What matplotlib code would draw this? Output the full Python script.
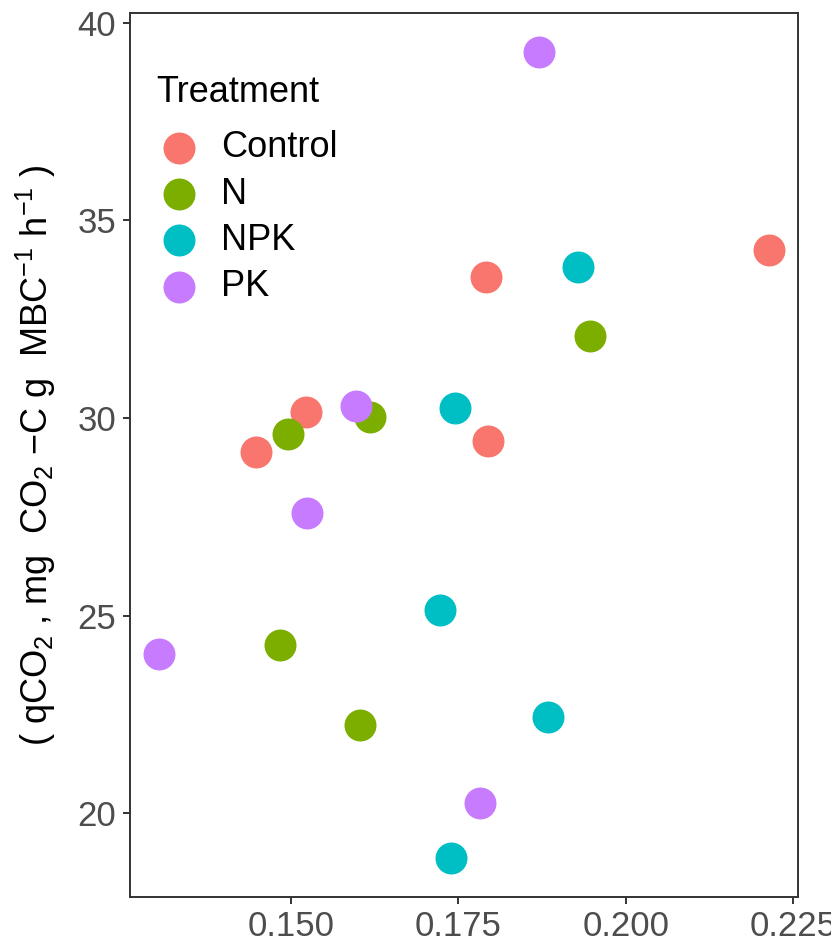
import numpy as np
import matplotlib
matplotlib.use("Agg")
import matplotlib.pyplot as plt

plt.rcParams['font.family'] = ['Liberation Sans', 'DejaVu Sans']
plt.rcParams['mathtext.fontset'] = 'custom'
plt.rcParams['mathtext.rm'] = 'Liberation Sans'
plt.rcParams['mathtext.it'] = 'Liberation Sans'
plt.rcParams['mathtext.bf'] = 'Liberation Sans:bold'

# data
treatments = ["Control", "N", "NPK", "PK"]
colors = ["#F8766D", "#7CAE00", "#00BFC4", "#C77CFF"]

control_x = [0.1448, 0.1522, 0.1791, 0.1794, 0.2214]
control_y = [29.14, 30.15, 33.57, 29.42, 34.25]
n_x = [0.1495, 0.1618, 0.1484, 0.1603, 0.1947]
n_y = [29.60, 30.01, 24.26, 22.22, 32.06]
npk_x = [0.1745, 0.1929, 0.1723, 0.1884, 0.1739]
npk_y = [30.24, 33.81, 25.14, 22.43, 18.86]
pk_x = [0.1870, 0.1597, 0.1524, 0.1303, 0.1782]
pk_y = [39.25, 30.29, 27.59, 24.03, 20.25]

xs = [control_x, n_x, npk_x, pk_x]
ys = [control_y, n_y, npk_y, pk_y]

x_ticks = [0.150, 0.175, 0.200, 0.225]
x_ticklabels = ["0.150", "0.175", "0.200", "0.225"]
y_ticks = [20, 25, 30, 35, 40]

fig = plt.figure(figsize=(8.31, 9.52), dpi=100)
ax = fig.add_axes([130 / 831, 55 / 952, 667.7 / 831, 884.3 / 952])

for name, c, x, y in zip(treatments, colors, xs, ys):
    ax.scatter(x, y, s=530, color=c, linewidths=0, label=name, zorder=3)

ax.set_xlim(0.12596, 0.22566)
ax.set_ylim(17.88, 40.25)
ax.set_xticks(x_ticks)
ax.set_xticklabels(x_ticklabels)
ax.set_yticks(y_ticks)

for s in ax.spines.values():
    s.set_linewidth(1.4)
    s.set_color("#333333")
ax.tick_params(axis="both", length=5, width=1.4, color="#333333",
               labelcolor="#4D4D4D", labelsize=25)
ax.tick_params(axis="x", pad=4)
ax.tick_params(axis="y", pad=5)

ax.set_ylabel(r"( qCO$_2$ , mg  CO$_2$ $-$C g  MBC$^{-1}$ h$^{-1}$ )",
              fontsize=26, color="black", labelpad=14)

leg = ax.legend(title="Treatment", loc="upper left", bbox_to_anchor=(0.0395, 0.93),
                frameon=False, fontsize=26, title_fontsize=26,
                handlelength=1.25, handletextpad=0.55, labelspacing=0.31,
                borderpad=0, borderaxespad=0, scatterpoints=1)
leg._legend_box.align = "left"
leg._legend_box.sep = 15

fig.savefig("out.png", dpi=100)
